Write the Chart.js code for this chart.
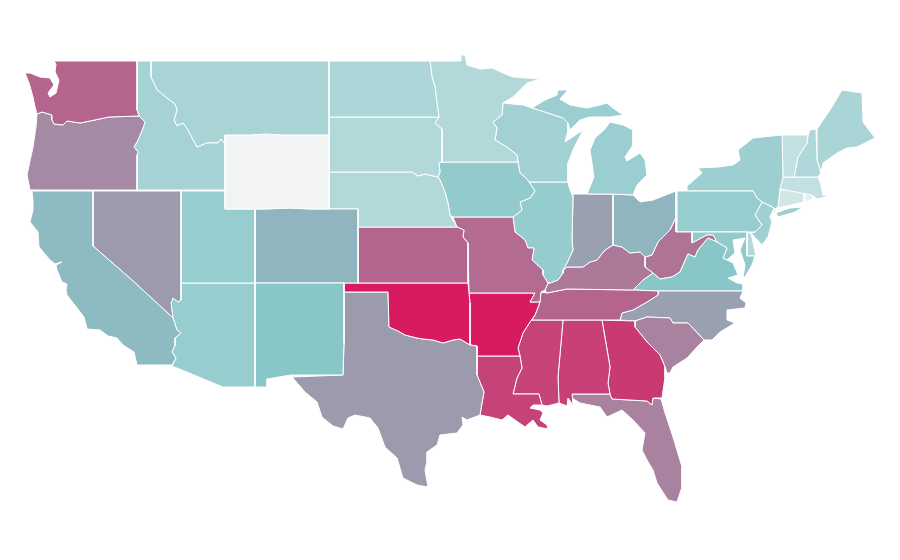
<!DOCTYPE html>
<html>
<head>
<meta charset="utf-8">
<title>US states</title>
<script src="https://cdn.jsdelivr.net/npm/chart.js@4"></script>
<style>
body { margin: 0; background: #fff; }
#map { display: block; }
</style>
</head>
<body>
<canvas id="map" width="900" height="560"></canvas>
<script>
//state outlines, map grid units, x,y,x,y...
var WA = [54,61,137,61,137,110,139,116,109,117,90,121,80,123,67,121,63,125,54,124,52,120,52,115,42,112,37,114,35,107,33,97,29,83,25,73,30,73,40,77,50,78,54,85,48,93,50,97,56,93,59,80,55,72,56,64];
var OR = [37,114,42,112,52,115,52,120,54,124,63,125,67,121,80,123,90,121,109,117,139,116,145,122,143,128,138,140,134,147,138,152,137,155,137,190,30,190,27,175,33,147,36,127];
var CA = [32,191,93,191,93,246,132,280,173,318,177,330,181,333,175,338,175,345,172,352,176,358,172,365,137,365,134,352,123,345,117,338,108,336,100,330,87,329,84,317,67,295,66,290,67,284,62,282,57,270,56,265,62,262,55,264,50,260,39,247,38,232,30,222,33,210,33,200];
var NV = [93,191,181,191,181,300,178,302,173,298,171,303,173,318,132,280,93,246];
var ID = [137,61,151,61,151,77,157,90,167,98,175,104,177,110,174,120,177,126,183,123,188,130,192,138,197,147,207,143,218,143,221,139,225,144,225,190,137,190,137,155,138,152,134,147,138,140,143,128,145,122,139,116,137,110];
var MT = [151,61,329,61,329,135,285,135,265,134,250,135,225,135,225,144,221,139,218,143,207,143,197,147,192,138,188,130,183,123,177,126,174,120,177,110,175,104,167,98,157,90,151,77];
var WY = [225,135,250,135,265,134,285,135,329,135,329,209,310,209,290,208,265,209,225,209];
var UT = [181,191,225,191,225,209,255,209,255,283,181,283];
var AZ = [181,283,255,283,255,387,223,387,172,366,176,358,172,352,175,345,175,338,181,333,177,330,173,318,171,303,173,298,178,302,181,300];
var NM = [255,283,344,283,344,343,343,375,291,375,267,379,267,387,255,387];
var CO = [255,209,265,209,290,208,310,209,329,209,358,209,358,283,255,283];
var ND = [329,61,430,61,432,77,435,87,437,103,439,117,329,117];
var SD = [329,117,439,117,435,123,442,129,442,162,439,163,440,172,438,177,425,174,418,176,412,172,345,172,329,172];
var NE = [329,172,345,172,412,172,418,176,425,174,438,177,440,180,445,192,448,203,450,215,457,227,358,227,358,209,329,209];
var KS = [358,227,457,227,464,230,463,237,468,243,468,283,358,283];
var OK = [344,283,468,283,469,293,470,303,470,345,460,339,453,340,443,343,433,340,423,339,417,338,405,335,398,331,389,327,388,292,344,292];
var TX = [344,292,388,292,389,327,398,331,405,335,417,338,423,339,433,340,443,343,453,340,460,339,470,345,477,346,477,375,484,392,482,403,480,415,467,420,462,417,463,425,457,433,440,435,437,445,427,452,427,462,425,470,428,487,417,485,403,478,397,458,385,447,378,428,370,418,355,415,348,418,343,429,333,426,322,417,317,402,305,392,292,377,343,375,344,343];
var MN = [430,61,461,61,461,55,465,55,467,65,480,69,492,68,503,73,513,77,540,79,527,83,513,97,503,103,502,115,493,122,497,128,495,140,507,147,517,155,518,162,442,162,442,129,435,123,439,117,437,103,435,87,432,77];
var IA = [442,162,518,162,520,173,527,179,535,191,530,198,520,202,522,210,513,217,453,217,450,215,448,203,445,192,440,180,438,177,440,172,439,163];
var MO = [453,217,513,217,515,232,525,240,528,248,534,248,532,260,543,270,543,275,548,283,545,290,541,292,540,302,530,302,535,293,469,293,468,243,463,237,464,230,457,227];
var AR = [469,293,535,293,530,302,540,302,535,315,530,322,523,333,518,348,520,356,477,356,477,346,470,345,470,303];
var LA = [477,356,520,356,522,368,517,378,513,394,539,394,542,405,533,405,530,408,540,410,543,413,540,420,547,425,548,429,538,427,533,420,525,427,515,420,508,415,502,420,490,417,480,415,482,403,484,392,477,375];
var WI = [503,103,523,105,532,108,563,118,568,123,568,130,565,142,583,130,573,150,568,163,568,182,527,182,527,179,520,173,518,162,517,155,507,147,495,140,497,128,493,122,502,115];
var UPMI = [532,108,545,100,557,95,558,90,568,90,560,99,570,105,587,108,600,105,607,103,613,108,623,115,610,117,590,117,580,120,570,130,568,123,563,118];
var LPMI = [587,194,594,177,590,150,595,138,605,129,610,122,623,125,633,130,633,145,625,157,627,161,640,153,645,160,647,175,637,185,633,195,613,194];
var IL = [527,182,568,182,569,187,573,197,572,240,573,250,567,263,563,270,563,273,558,280,550,283,548,283,543,275,543,270,532,260,534,248,528,248,525,240,515,232,513,217,522,210,520,202,530,198,535,191,527,179];
var IN = [573,194,613,194,613,245,605,250,597,260,590,262,583,267,567,267,563,270,567,263,573,250,572,240,573,197];
var OH = [613,194,633,195,640,202,653,200,676,191,676,217,670,230,658,242,652,255,645,257,640,252,630,253,622,247,613,245];
var KY = [563,270,567,267,583,267,590,262,597,260,605,250,613,245,622,247,630,253,640,252,645,257,645,267,653,273,643,280,633,290,567,289,547,293,545,290,548,283,550,283,558,280,563,273];
var TN = [532,320,620,320,622,313,633,310,647,302,658,295,658,291,633,290,567,289,547,293,541,292,540,302,535,315];
var MS = [532,320,563,320,558,377,559,403,547,406,542,405,539,394,513,394,517,378,522,368,520,356,518,348,523,333,530,322];
var AL = [563,320,602,320,610,367,608,383,610,394,572,394,573,405,568,398,567,406,559,403,558,377];
var GA = [602,320,635,321,635,327,647,342,660,355,665,367,665,377,662,398,653,398,652,405,647,401,612,399,610,394,608,383,610,367];
var FL = [572,394,610,394,612,399,647,401,652,405,653,398,661,399,665,413,673,437,682,467,682,487,677,502,668,500,657,483,653,470,647,460,642,450,645,433,633,420,622,410,607,417,600,407,580,403,572,398];
var SC = [635,321,647,317,670,318,673,323,688,323,704,340,697,347,687,358,673,367,670,373,667,373,665,367,660,355,647,342,635,327];
var NC = [620,320,635,321,647,317,670,318,673,323,688,323,704,340,712,340,720,332,735,323,727,320,727,310,745,308,746,303,740,298,743,291,658,291,658,295,647,302,633,310,622,313];
var VA = [633,290,643,280,653,273,660,279,672,277,680,272,688,254,695,257,698,250,708,238,717,242,727,248,723,258,733,263,738,275,728,278,737,283,743,284,743,291,658,291];
var WV = [676,217,676,232,692,232,692,243,707,235,713,235,717,242,708,238,698,250,695,257,688,254,680,272,672,277,660,279,653,273,645,267,645,257,652,255,658,242,670,230];
var MD = [692,232,747,232,747,256,755,256,752,265,745,277,743,278,745,265,740,250,745,238,733,240,735,253,727,260,723,258,727,248,717,242,713,235,707,235,692,243];
var DE = [747,233,751,233,756,256,747,256];
var PA = [677,191,687,191,753,191,757,198,762,202,755,215,762,225,755,232,747,232,677,232];
var NJ = [762,202,774,208,770,217,772,222,768,237,762,245,751,233,755,232,762,225,755,215];
var NY = [687,191,687,186,702,173,698,168,718,167,733,165,740,160,738,150,753,138,782,135,783,177,780,189,778,207,773,210,775,213,790,208,803,207,795,212,778,217,774,208,762,202,757,198,753,191];
var VT = [782,135,808,135,807,143,798,157,794,177,783,177];
var NH = [810,130,816,129,817,160,821,173,818,177,794,177,798,157,807,143,808,135];
var ME = [817,129,830,110,842,90,862,93,863,122,875,138,857,147,847,148,837,153,823,163,821,172,817,160];
var MA = [783,177,818,177,821,185,823,195,830,196,817,199,812,195,780,189];
var CT = [780,190,804,190,804,202,778,208];
var RI = [805,191,810,191,813,199,805,202];

var stateOutlines = [WA,OR,CA,NV,ID,MT,WY,UT,AZ,NM,CO,ND,SD,NE,KS,OK,TX,MN,IA,MO,AR,LA,WI,UPMI,LPMI,IL,IN,OH,KY,TN,MS,AL,GA,FL,SC,NC,VA,WV,MD,DE,PA,NJ,NY,VT,NH,ME,MA,CT,RI];
var stateNames = ['Washington','Oregon','California','Nevada','Idaho','Montana','Wyoming','Utah','Arizona','New Mexico','Colorado','North Dakota','South Dakota','Nebraska','Kansas','Oklahoma','Texas','Minnesota','Iowa','Missouri','Arkansas','Louisiana','Wisconsin','Michigan','Michigan','Illinois','Indiana','Ohio','Kentucky','Tennessee','Mississippi','Alabama','Georgia','Florida','South Carolina','North Carolina','Virginia','West Virginia','Maryland','Delaware','Pennsylvania','New Jersey','New York','Vermont','New Hampshire','Maine','Massachusetts','Connecticut','Rhode Island'];
var stateValues = [74,61,44,55,29,28,0,34,34,40,46,26,24,24,74,100,55,24,36,72,100,86,30,33,33,35,53,46,67,74,86,87,89,64,64,53,40,69,36,23,34,31,32,18,25,27,18,12,5];

//value -> colour, pale to teal to crimson
function valueColor(v){
    var a, b, t;
    if (v < 40){
        a = [242,243,245]; b = [136,198,200]; t = v / 40;
    }else{
        a = [136,198,200]; b = [216,27,96]; t = (v - 40) / 60;
    }
    return 'rgb(' + a.map(function(c, i){ return Math.round(c + (b[i] - c) * t); }).join(',') + ')';
}

function toPoints(flat){
    var pts = [];
    for (var i = 0; i < flat.length; i += 2){
        pts.push({x: flat[i], y: flat[i + 1]});
    }
    pts.push({x: flat[0], y: flat[1]}); //close the ring
    return pts;
}

var datasets = [];
stateOutlines.forEach(function(outline, i){
    datasets.push({
        label: stateNames[i],
        data: toPoints(outline),
        showLine: true,
        fill: 'shape',
        tension: 0,
        pointRadius: 0,
        borderWidth: 1,
        borderColor: '#ffffff',
        backgroundColor: valueColor(stateValues[i])
    });
});

var ctx = document.getElementById('map').getContext('2d');
var myChart = new Chart(ctx, {
    type: 'scatter',
    data: { datasets: datasets },
    options: {
        responsive: false,
        animation: false,
        layout: { padding: 0 },
        plugins: { legend: { display: false }, tooltip: { enabled: false } },
        scales: {
            x: { type: 'linear', display: false, min: 0, max: 900 },
            y: { type: 'linear', display: false, min: 0, max: 560, reverse: true }
        }
    }
});
</script>
</body>
</html>
